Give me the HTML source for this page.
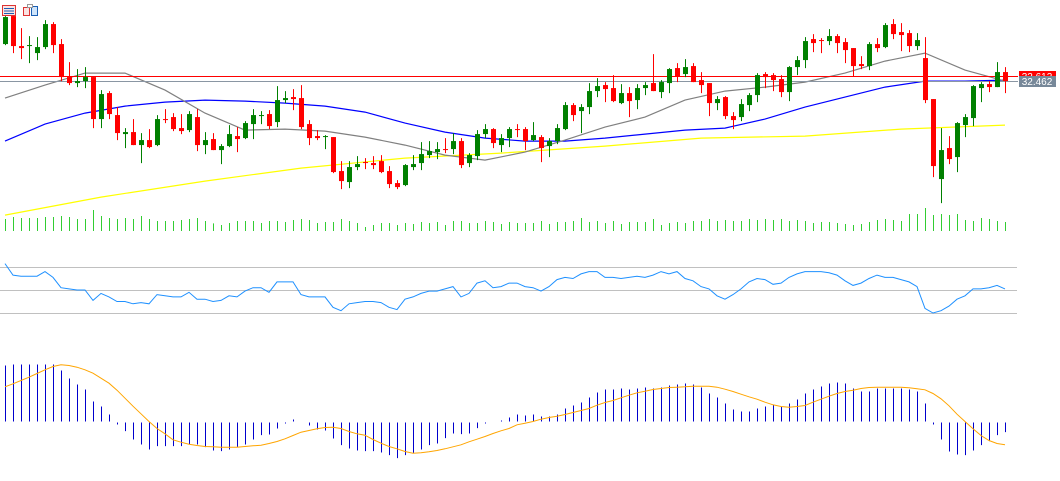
<!DOCTYPE html>
<html><head><meta charset="utf-8">
<style>
html,body{margin:0;padding:0;background:#fff;}
svg{display:block;font-family:"Liberation Sans",sans-serif;}
</style></head>
<body>
<svg id="chart" width="1060" height="481" xmlns="http://www.w3.org/2000/svg">
  <rect width="1060" height="481" fill="#fff"/>
  <g>
    <rect x="2.5" y="5.5" width="13" height="10" fill="#fbe3e3" stroke="#d33"/>
    <line x1="4" y1="8.5" x2="14" y2="8.5" stroke="#1a5fb4"/>
    <line x1="4" y1="11" x2="14" y2="11" stroke="#1a5fb4"/>
    <line x1="4" y1="13.5" x2="14" y2="13.5" stroke="#1a5fb4"/>
  </g>
  <g>
    <rect x="23.5" y="7.5" width="6" height="8" fill="#fbe3e3" stroke="#d33"/>
    <rect x="31.5" y="6.5" width="6" height="9" fill="#cfe5fb" stroke="#1a5fb4"/>
    <rect x="27.5" y="4.5" width="5" height="3" fill="#fff" stroke="#999"/>
  </g>
  <g id="main"></g>
  <g id="rsi"></g>
  <g id="macd"></g>
</svg>
<script>
const opens=[33.57,34.41,33.51,33.51,33.30,33.48,34.17,33.57,32.58,32.40,
32.46,32.58,31.32,32.10,31.44,30.87,30.93,30.54,30.69,30.54,
31.32,31.38,31.05,30.99,31.38,30.54,30.72,30.39,30.51,30.81,
30.75,31.17,31.41,31.47,31.23,31.89,31.98,31.95,31.17,30.81,
30.78,30.78,29.76,29.43,29.88,30.03,30.00,30.06,29.76,29.40,
29.34,29.88,30.00,30.24,30.33,30.42,30.42,30.66,30.00,30.21,
30.87,31.02,30.54,30.75,31.02,31.02,30.69,30.78,30.51,30.66,
31.02,31.74,31.56,31.68,32.16,32.34,32.25,31.80,32.10,31.89,
32.25,32.40,32.13,32.40,32.85,32.67,32.91,32.49,32.40,31.80,
31.98,31.41,31.38,31.74,32.04,32.67,32.64,32.52,32.13,32.88,
33.09,33.72,33.69,33.66,33.81,33.63,33.45,32.97,32.91,33.57,
33.48,34.17,33.93,33.90,33.51,33.15,31.92,29.52,30.45,30.18,
31.14,31.35,32.25,32.37,32.28,32.73];
const highs=[34.41,34.41,34.05,33.81,33.78,34.29,34.23,33.72,33.03,32.82,
32.88,32.58,32.19,32.16,31.68,31.05,31.32,30.90,31.02,31.44,
31.62,31.50,31.47,31.56,31.62,30.93,30.90,30.57,31.14,31.08,
31.26,31.62,31.56,31.59,32.31,32.16,32.22,32.34,31.29,30.99,
30.84,30.78,30.06,30.06,30.21,30.15,30.21,30.24,29.91,29.49,
29.97,30.24,30.63,30.66,30.63,30.75,30.90,30.75,30.30,30.99,
31.17,31.05,30.87,31.08,31.17,31.08,31.23,30.84,30.75,31.17,
31.83,31.80,31.77,32.40,32.55,32.43,32.64,32.37,32.28,32.37,
32.43,33.27,32.49,32.85,33.00,33.12,33.00,32.73,32.40,32.01,
32.01,31.53,31.92,32.10,32.70,32.73,32.70,32.64,32.91,33.21,
33.78,33.87,33.75,34.02,33.87,33.75,33.45,33.21,33.63,33.75,
34.20,34.32,34.20,33.99,33.90,33.78,31.92,31.05,30.81,31.23,
31.47,32.34,32.43,32.46,33.03,32.88];
const lows=[33.54,33.30,33.12,33.00,33.09,33.42,33.30,32.46,32.34,32.28,
32.25,31.05,31.05,31.32,30.69,30.45,30.54,30.00,30.45,30.51,
31.20,30.96,30.87,30.93,30.36,30.27,30.39,29.97,30.48,30.33,
30.72,30.72,31.17,31.02,31.08,31.80,31.59,31.02,30.54,30.69,
30.42,29.70,29.22,29.25,29.79,29.82,29.82,29.70,29.25,29.22,
29.31,29.79,29.79,30.15,30.12,30.30,30.27,29.85,29.88,30.09,
30.75,30.45,30.33,30.48,30.78,30.39,30.66,30.03,30.18,30.57,
30.99,31.26,30.90,31.47,31.98,31.83,31.83,31.77,31.38,31.62,
32.04,32.16,31.95,32.10,32.43,32.58,32.43,32.10,31.41,31.59,
31.32,31.02,31.26,31.56,31.83,32.25,32.16,31.98,31.86,32.64,
32.85,33.33,33.30,33.54,33.30,33.00,32.61,32.82,32.79,33.33,
33.45,33.72,33.36,33.33,33.39,31.80,29.58,28.80,29.97,29.73,
30.78,31.11,31.83,32.13,32.28,32.10];
const closes=[34.38,33.51,33.45,33.54,33.48,34.17,33.54,32.58,32.40,32.46,
32.58,31.32,32.07,31.47,30.90,30.93,30.54,30.69,30.48,31.32,
31.29,31.02,30.96,31.47,30.54,30.69,30.39,30.51,30.87,30.72,
31.20,31.44,31.44,31.11,31.89,31.95,31.92,31.08,30.75,30.75,
30.81,29.73,29.46,29.88,29.97,30.00,29.94,29.73,29.37,29.28,
29.94,29.97,30.27,30.36,30.42,30.39,30.66,29.94,30.24,30.87,
31.02,30.60,30.75,31.02,30.99,30.66,30.84,30.45,30.66,31.05,
31.74,31.44,31.68,32.16,32.31,32.22,31.86,32.10,31.86,32.25,
32.34,32.16,32.43,32.82,32.61,32.88,32.43,32.34,31.80,31.92,
31.41,31.29,31.77,32.04,32.64,32.58,32.49,32.13,32.88,33.09,
33.66,33.60,33.66,33.81,33.60,33.39,32.91,32.91,33.57,33.45,
34.14,33.87,33.84,33.51,33.69,31.89,29.91,30.39,30.12,31.20,
31.38,32.31,32.37,32.28,32.73,32.46];
const volumes=[36,42,39,39,39,42,42,45,42,36,36,63,45,39,36,39,36,45,36,30,30,30,33,36,39,30,23,18,24,30,30,30,24,30,30,27,33,36,33,24,27,27,36,30,24,12,18,24,24,18,24,21,27,24,27,18,30,30,24,24,30,27,21,27,24,
24,24,30,21,27,27,30,39,27,30,24,30,21,27,27,27,36,18,24,27,24,30,30,36,30,33,30,30,36,33,36,33,36,30,33,30,24,27,27,24,21,18,21,27,33,36,33,30,51,51,69,48,51,48,51,33,30,39,36,30,27];
const maFastIdx=[0,5,10,15,20,25,30,35,40,45,50,55,60,65,70,75,80,85,90,95,100,105,110,115,120,125];
const maFast=[31.95,32.34,32.70,32.70,32.19,31.50,30.99,31.02,30.96,30.78,30.54,30.24,30.09,30.33,30.69,31.08,31.38,31.89,32.16,32.28,32.43,32.70,33.06,33.30,32.79,32.46];
const maMid=[30.66,31.17,31.50,31.71,31.83,31.89,31.86,31.80,31.71,31.53,31.20,30.93,30.75,30.66,30.66,30.75,30.87,30.99,31.05,31.32,31.68,31.98,32.28,32.46,32.46,32.49];
const maSlowIdx=[0,12,25,37,50,62,75,87,100,112,125];
const maSlow=[28.44,28.98,29.46,29.85,30.15,30.30,30.51,30.75,30.81,31.02,31.14];
const rsiVals=[73,63,62,62,62,66,61,52,51,50,50,41,47,44,40,40,38,39,38,46,45,44,44,48,42,42,40,41,45,44,49,52,52,48,57,57,57,46,44,44,44,35,32,38,39,40,40,39,35,33,42,44,47,49,49,51,53,44,47,56,58,52,53,56,56,53,52,49,53,59,61,60,64,66,66,61,61,60,61,62,61,63,66,64,66,60,58,53,51,45,42,46,51,57,60,59,55,56,61,64,66,66,66,65,63,58,54,56,60,63,61,61,59,57,53,34,30,32,36,42,45,51,51,52,54,51];
const rsiLevels=[70,50,30];
const macdHist=[168,171,171,171,171,171,171,153,129,111,96,60,45,21,-9,-29,-54,-69,-84,-74,-74,-74,-74,-69,-69,-77,-87,-89,-84,-76,-69,-54,-41,-39,-21,-6,6,0,-12,-24,-27,-51,-71,-81,-87,-89,-89,-93,-101,-110,-101,-94,-84,-71,-66,-50,-36,-38,-36,-20,-6,-3,3,12,21,
18,21,15,15,21,39,48,57,72,87,96,96,99,96,99,102,99,102,108,111,114,111,102,84,72,54,36,30,30,39,45,51,45,54,66,84,96,105,114,117,114,99,90,90,99,99,99,99,96,90,54,-9,-54,-90,-99,-101,-87,-71,-59,-41,-32];
const macdSignal=[104,113,123,133,144,155,165,170,168,163,155,145,130,115,94,70,46,23,0,-21,-37,-55,-62,-68,-72,-75,-76,-77,-77,-77,-75,-73,-71,-66,-60,-52,-42,-32,-27,-22,-18,-17,-21,-30,-37,-41,-54,-65,-75,-82,-90,-95,-94,-91,-87,-82,-76,-70,-61,-53,-45,-36,-28,-21,-10,
-5,0,7,12,16,21,27,33,39,49,57,63,71,79,86,91,96,99,102,103,104,106,106,106,103,97,90,82,74,67,58,50,45,43,45,48,58,67,76,84,90,94,99,102,103,103,103,103,101,98,95,84,68,47,22,0,-22,-42,-57,-66,-70];
const askPrice=32.612, bidPrice=32.462;

const NS="http://www.w3.org/2000/svg";
function mk(parent,tag,attrs){const e=document.createElementNS(NS,tag);for(const k in attrs)e.setAttribute(k,attrs[k]);parent.appendChild(e);return e;}
const xAt=i=>5+8*i;
const yP=p=>(34.892-p)/0.03;
const volBase=231, yV=v=>volBase-v/3;
const yR=r=>290-(r-50)*1.15;
const macdZero=421.5, yM=v=>macdZero-v/3;
const main=document.getElementById('main');
const rsi=document.getElementById('rsi');
const macd=document.getElementById('macd');

// volumes
for(let i=0;i<volumes.length;i++){
  const l=mk(main,'line',{x1:xAt(i)+0.5,x2:xAt(i)+0.5,y1:volBase,y2:yV(volumes[i]),stroke:'#32cd32','stroke-width':1});
  
  
}
// MA lines
function maPath(idx,vals,color,name){
  const pts=vals.map((v,k)=>xAt(idx[k])+','+yP(v).toFixed(1)).join(' ');
  const p=mk(main,'polyline',{points:pts,fill:'none',stroke:color,'stroke-width':1.2});
  
  
}
maPath(maSlowIdx,maSlow,'#ffff00','ma-slow-line');
maPath(maFastIdx,maMid,'#0000ff','ma-medium-line');
maPath(maFastIdx,maFast,'#808080','ma-fast-line');
// price lines
const askL=mk(main,'line',{x1:0,x2:1018,y1:yP(askPrice)+0.5,y2:yP(askPrice)+0.5,stroke:'#ff0000','stroke-width':1});


const bidL=mk(main,'line',{x1:0,x2:1018,y1:yP(bidPrice)+0.5,y2:yP(bidPrice)+0.5,stroke:'#8a96a3','stroke-width':1});


// candles
for(let i=0;i<opens.length;i++){
  const up=closes[i]>=opens[i];
  const col=up?'#008000':'#ff0000';
  const g=mk(main,'g',{});
  
  
  mk(g,'line',{x1:xAt(i)+0.5,x2:xAt(i)+0.5,y1:yP(highs[i]),y2:yP(lows[i]),stroke:col,'stroke-width':1});
  const t=Math.min(yP(opens[i]),yP(closes[i]));
  const h=Math.max(1,Math.abs(yP(opens[i])-yP(closes[i])));
  mk(g,'rect',{x:xAt(i)-2,y:t,width:5,height:h,fill:col});
}
// price labels
const askBox=mk(main,'rect',{x:1019,y:yP(askPrice)-5,width:37,height:11,fill:'#ff0000'});


const askT=mk(main,'text',{x:1037,y:yP(askPrice)+4,fill:'#fff','font-size':10,'text-anchor':'middle'});
askT.textContent='32.612';


const bidBox=mk(main,'rect',{x:1019,y:yP(bidPrice)-5,width:37,height:11,fill:'#778899'});


const bidT=mk(main,'text',{x:1037,y:yP(bidPrice)+4,fill:'#fff','font-size':10,'text-anchor':'middle'});
bidT.textContent='32.462';



// RSI
rsiLevels.forEach(v=>{
  const l=mk(rsi,'line',{x1:0,x2:1017,y1:Math.round(yR(v))+0.5,y2:Math.round(yR(v))+0.5,stroke:'#c0c0c0','stroke-width':1});
  
  
});
const rl=mk(rsi,'polyline',{points:rsiVals.map((v,i)=>xAt(i)+','+yR(v).toFixed(1)).join(' '),fill:'none',stroke:'#1e90ff','stroke-width':1});



// MACD
for(let i=0;i<macdHist.length;i++){
  const v=macdHist[i];
  const l=mk(macd,'line',{x1:xAt(i)+0.5,x2:xAt(i)+0.5,y1:v>=0?macdZero:macdZero+1,y2:yM(v),stroke:'#0000cd','stroke-width':1});
  
  
}
const sl=mk(macd,'polyline',{points:macdSignal.map((v,i)=>xAt(i)+','+yM(v).toFixed(1)).join(' '),fill:'none',stroke:'#ffa500','stroke-width':1});


</script>
</body></html>
